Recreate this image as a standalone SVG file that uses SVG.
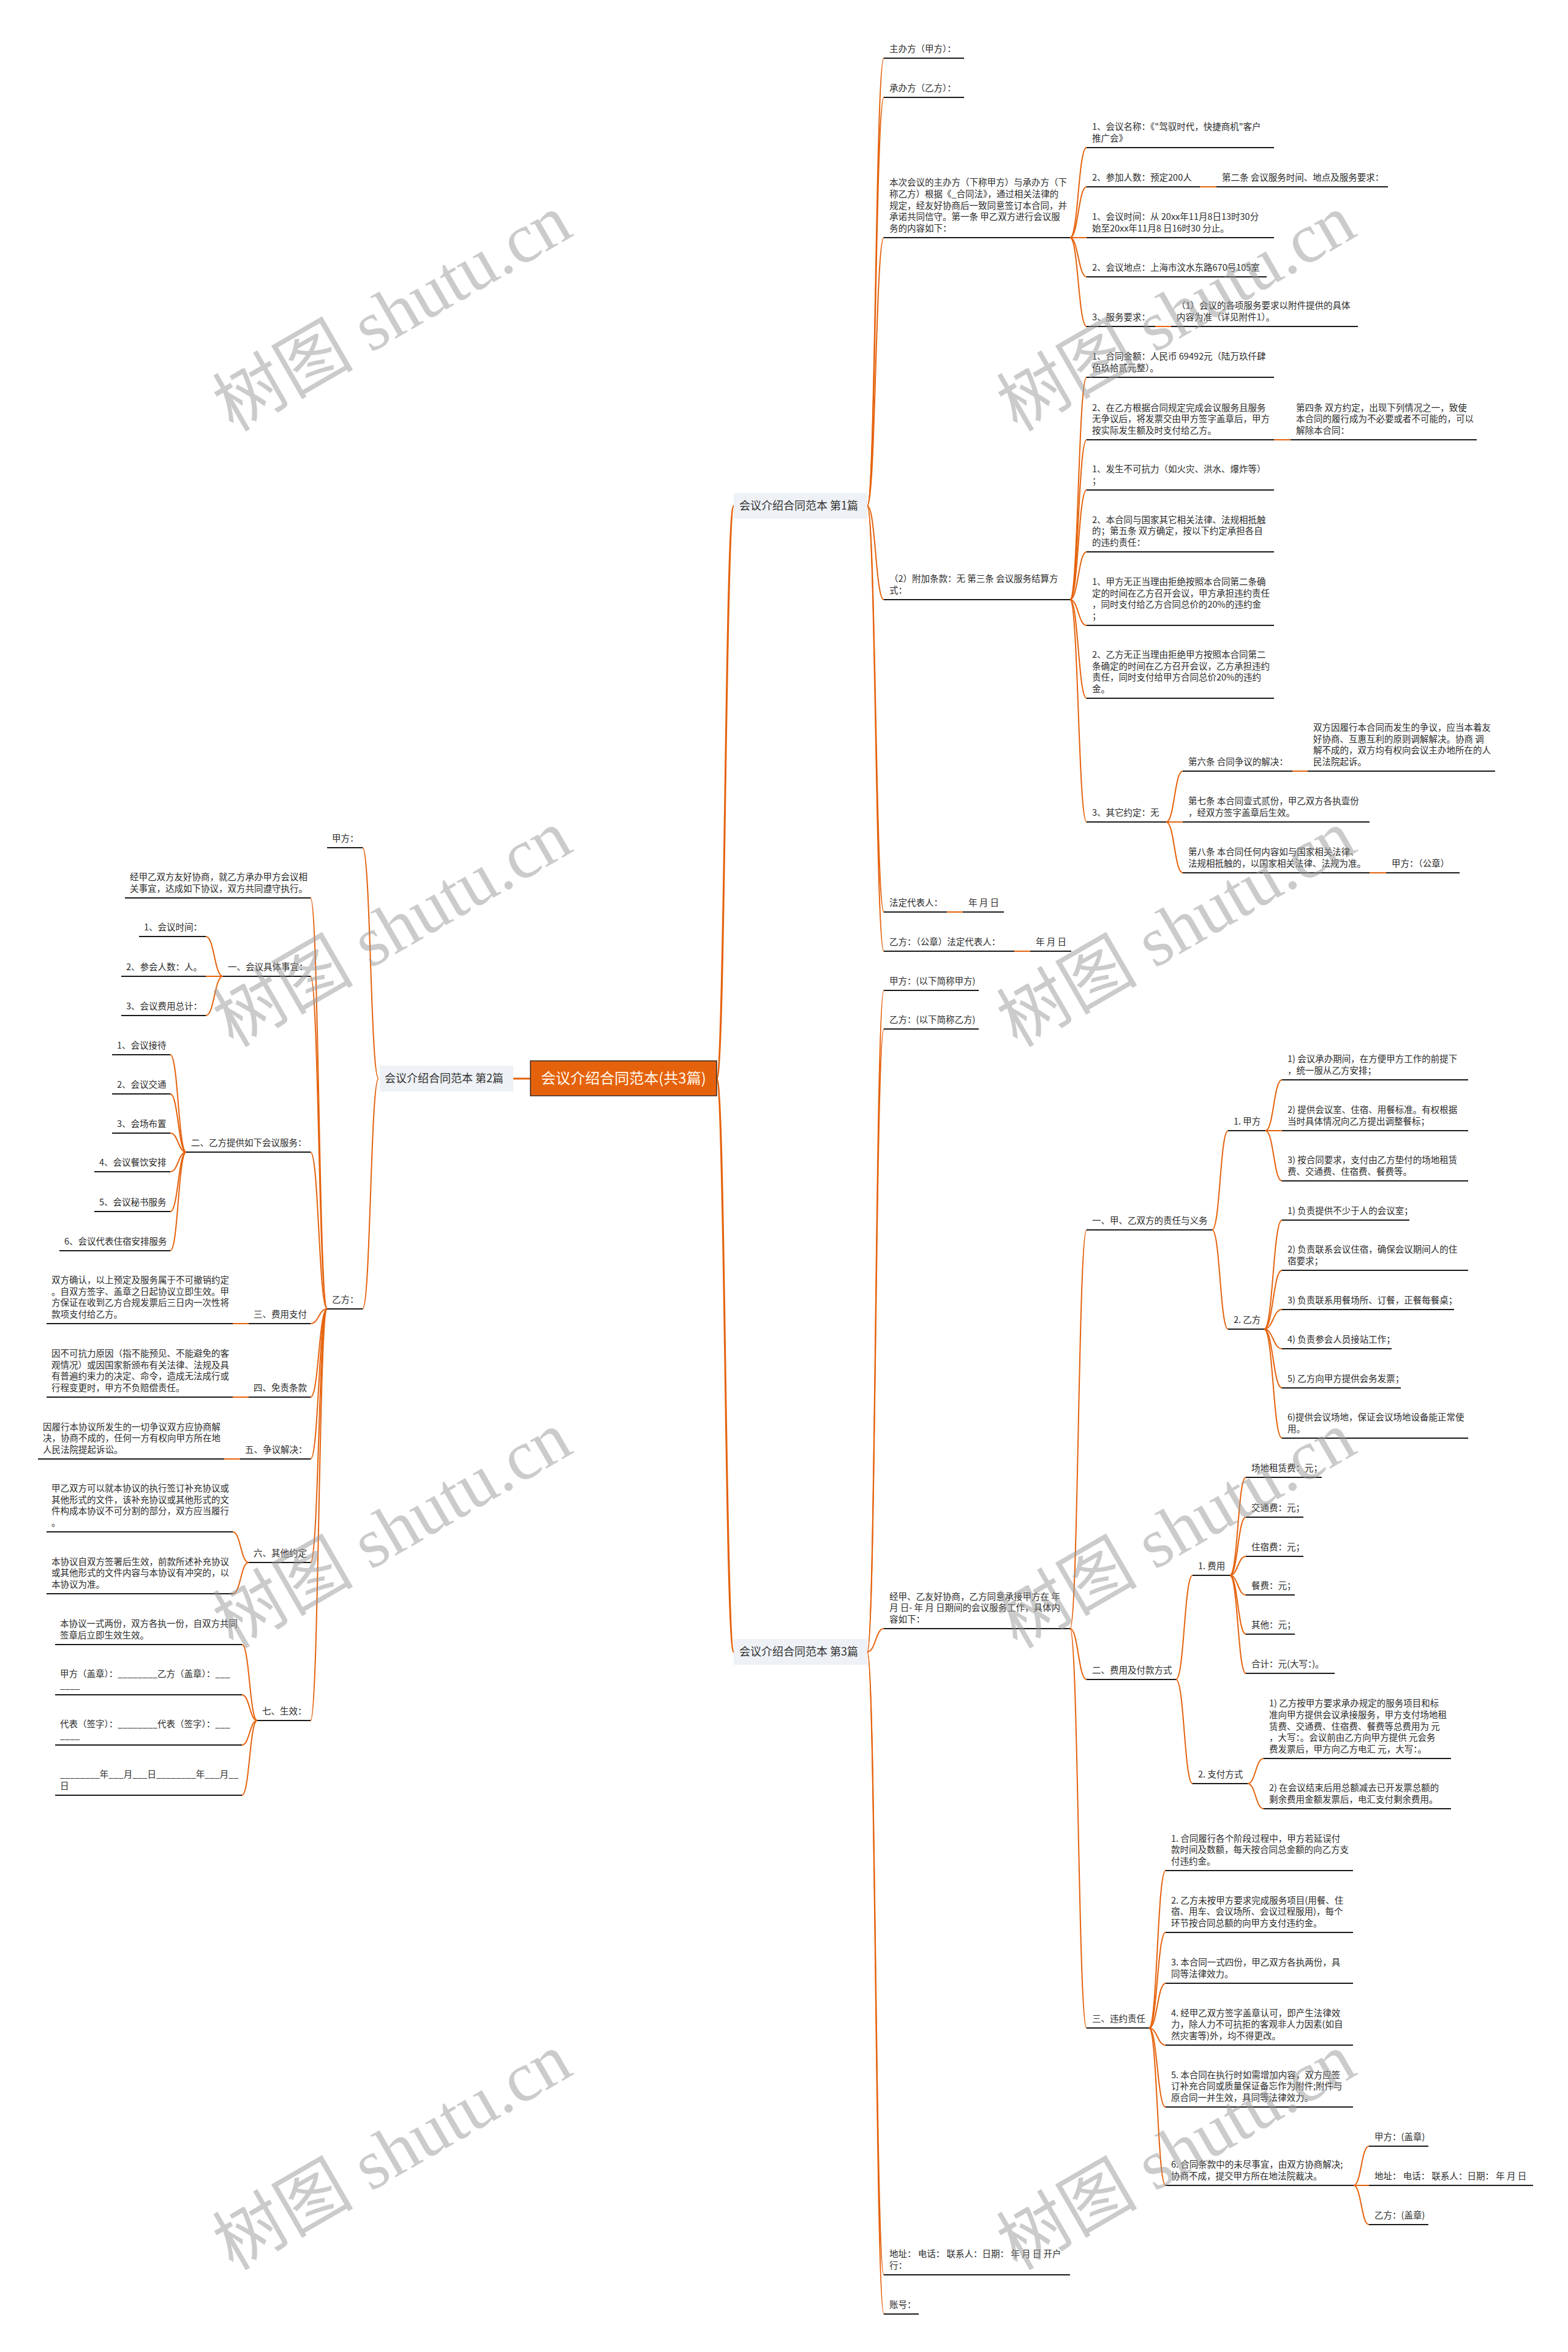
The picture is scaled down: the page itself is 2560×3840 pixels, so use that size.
<svg xmlns="http://www.w3.org/2000/svg" width="2560" height="3840" viewBox="0 0 2560 3840">
<style>
.t{font-family:"Noto Sans CJK SC","Noto Sans",sans-serif;font-size:14.5px;fill:#2b2b2b}
.u{stroke:#1a1a1a;stroke-width:2.2;fill:none}
.c{stroke:#E5620C;stroke-width:2;fill:none}
.cr{stroke:#E5620C;stroke-width:3;fill:none}
.bx{fill:#EEF1F5}
.bt{font-family:"Noto Sans CJK SC","Noto Sans",sans-serif;font-size:18px;fill:#333}
.rt{font-family:"Noto Sans CJK SC","Noto Sans",sans-serif;font-size:24px;fill:#FFF8EC}
.wm{font-family:"Liberation Serif","Noto Sans CJK SC",serif;font-size:115px;fill:#999;opacity:0.5}
</style>
<rect width="2560" height="3840" fill="#fff"/>
<g id="connectors">
<path class="cr" d="M866 1761 L838 1761"/>
<path class="cr" d="M1170 1761 C1184 1761 1184 826 1198 826"/>
<path class="cr" d="M1170 1761 C1184 1761 1184 2697 1198 2697"/>
<path class="c" d="M1416 826 C1429.5 826 1429.5 95 1443 95"/>
<path class="c" d="M1416 826 C1429.5 826 1429.5 159 1443 159"/>
<path class="c" d="M1416 826 C1429.5 826 1429.5 388 1443 388"/>
<path class="c" d="M1416 826 C1429.5 826 1429.5 979 1443 979"/>
<path class="c" d="M1416 826 C1429.5 826 1429.5 1489 1443 1489"/>
<path class="c" d="M1416 826 C1429.5 826 1429.5 1553 1443 1553"/>
<path class="c" d="M1747 388 C1760.5 388 1760.5 241 1774 241"/>
<path class="c" d="M1747 388 C1760.5 388 1760.5 305 1774 305"/>
<path class="c" d="M1747 388 L1774 388"/>
<path class="c" d="M1747 388 C1760.5 388 1760.5 452 1774 452"/>
<path class="c" d="M1747 388 C1760.5 388 1760.5 533 1774 533"/>
<path class="c" d="M1959 305 L1986 305"/>
<path class="c" d="M1886 533 L1912 533"/>
<path class="c" d="M1747 979 C1760.5 979 1760.5 616 1774 616"/>
<path class="c" d="M1747 979 C1760.5 979 1760.5 718 1774 718"/>
<path class="c" d="M1747 979 C1760.5 979 1760.5 800 1774 800"/>
<path class="c" d="M1747 979 C1760.5 979 1760.5 901 1774 901"/>
<path class="c" d="M1747 979 C1760.5 979 1760.5 1021 1774 1021"/>
<path class="c" d="M1747 979 C1760.5 979 1760.5 1140 1774 1140"/>
<path class="c" d="M1747 979 C1760.5 979 1760.5 1342 1774 1342"/>
<path class="c" d="M2080 718 L2107 718"/>
<path class="c" d="M1904 1342 C1917.5 1342 1917.5 1259 1931 1259"/>
<path class="c" d="M1904 1342 L1931 1342"/>
<path class="c" d="M1904 1342 C1917.5 1342 1917.5 1425 1931 1425"/>
<path class="c" d="M2110 1259 L2135 1259"/>
<path class="c" d="M2236 1425 L2263 1425"/>
<path class="c" d="M1546 1489 L1572 1489"/>
<path class="c" d="M1656 1553 L1682 1553"/>
<path class="c" d="M1416 2697 C1429.5 2697 1429.5 1617 1443 1617"/>
<path class="c" d="M1416 2697 C1429.5 2697 1429.5 1680 1443 1680"/>
<path class="c" d="M1416 2697 C1429.5 2697 1429.5 2659 1443 2659"/>
<path class="c" d="M1416 2697 C1429.5 2697 1429.5 3714 1443 3714"/>
<path class="c" d="M1416 2697 C1429.5 2697 1429.5 3778 1443 3778"/>
<path class="c" d="M1747 2659 C1760.5 2659 1760.5 2008 1774 2008"/>
<path class="c" d="M1747 2659 C1760.5 2659 1760.5 2742 1774 2742"/>
<path class="c" d="M1747 2659 C1760.5 2659 1760.5 3311 1774 3311"/>
<path class="c" d="M1979 2008 C1992 2008 1992 1846 2005 1846"/>
<path class="c" d="M1979 2008 C1992 2008 1992 2170 2005 2170"/>
<path class="c" d="M2066 1846 C2079.5 1846 2079.5 1763 2093 1763"/>
<path class="c" d="M2066 1846 L2093 1846"/>
<path class="c" d="M2066 1846 C2079.5 1846 2079.5 1928 2093 1928"/>
<path class="c" d="M2064 2170 C2078.5 2170 2078.5 1992 2093 1992"/>
<path class="c" d="M2064 2170 C2078.5 2170 2078.5 2074 2093 2074"/>
<path class="c" d="M2064 2170 C2078.5 2170 2078.5 2138 2093 2138"/>
<path class="c" d="M2064 2170 C2078.5 2170 2078.5 2202 2093 2202"/>
<path class="c" d="M2064 2170 C2078.5 2170 2078.5 2266 2093 2266"/>
<path class="c" d="M2064 2170 C2078.5 2170 2078.5 2348 2093 2348"/>
<path class="c" d="M1920 2742 C1933.5 2742 1933.5 2572 1947 2572"/>
<path class="c" d="M1920 2742 C1933.5 2742 1933.5 2912 1947 2912"/>
<path class="c" d="M2008 2572 C2021 2572 2021 2412 2034 2412"/>
<path class="c" d="M2008 2572 C2021 2572 2021 2477 2034 2477"/>
<path class="c" d="M2008 2572 C2021 2572 2021 2541 2034 2541"/>
<path class="c" d="M2008 2572 C2021 2572 2021 2604 2034 2604"/>
<path class="c" d="M2008 2572 C2021 2572 2021 2668 2034 2668"/>
<path class="c" d="M2008 2572 C2021 2572 2021 2732 2034 2732"/>
<path class="c" d="M2037 2912 C2050 2912 2050 2871 2063 2871"/>
<path class="c" d="M2037 2912 C2050 2912 2050 2953 2063 2953"/>
<path class="c" d="M1876 3311 C1889.5 3311 1889.5 3054 1903 3054"/>
<path class="c" d="M1876 3311 C1889.5 3311 1889.5 3155 1903 3155"/>
<path class="c" d="M1876 3311 C1889.5 3311 1889.5 3238 1903 3238"/>
<path class="c" d="M1876 3311 C1889.5 3311 1889.5 3339 1903 3339"/>
<path class="c" d="M1876 3311 C1889.5 3311 1889.5 3440 1903 3440"/>
<path class="c" d="M1876 3311 C1889.5 3311 1889.5 3568 1903 3568"/>
<path class="c" d="M2210 3568 C2222.5 3568 2222.5 3504 2235 3504"/>
<path class="c" d="M2210 3568 L2235 3568"/>
<path class="c" d="M2210 3568 C2222.5 3568 2222.5 3632 2235 3632"/>
<path class="c" d="M618 1761 C605 1761 605 1384 592 1384"/>
<path class="c" d="M618 1761 C605 1761 605 2137 592 2137"/>
<path class="c" d="M534 2137 C520.5 2137 520.5 1466 507 1466"/>
<path class="c" d="M534 2137 C520.5 2137 520.5 1594 507 1594"/>
<path class="c" d="M534 2137 C520.5 2137 520.5 1881 507 1881"/>
<path class="c" d="M534 2137 C520.5 2137 520.5 2161 507 2161"/>
<path class="c" d="M534 2137 C520.5 2137 520.5 2281 507 2281"/>
<path class="c" d="M534 2137 C520.5 2137 520.5 2382 507 2382"/>
<path class="c" d="M534 2137 C520.5 2137 520.5 2551 507 2551"/>
<path class="c" d="M534 2137 C520.5 2137 520.5 2809 507 2809"/>
<path class="c" d="M364 1594 C350 1594 350 1529 336 1529"/>
<path class="c" d="M364 1594 L336 1594"/>
<path class="c" d="M364 1594 C350 1594 350 1658 336 1658"/>
<path class="c" d="M304 1881 C291 1881 291 1722 278 1722"/>
<path class="c" d="M304 1881 C291 1881 291 1786 278 1786"/>
<path class="c" d="M304 1881 C291 1881 291 1850 278 1850"/>
<path class="c" d="M304 1881 C291 1881 291 1913 278 1913"/>
<path class="c" d="M304 1881 C291 1881 291 1978 278 1978"/>
<path class="c" d="M304 1881 C291 1881 291 2042 278 2042"/>
<path class="c" d="M406 2161 L380 2161"/>
<path class="c" d="M406 2281 L380 2281"/>
<path class="c" d="M392 2382 L366 2382"/>
<path class="c" d="M406 2551 C393 2551 393 2501 380 2501"/>
<path class="c" d="M406 2551 C393 2551 393 2602 380 2602"/>
<path class="c" d="M420 2809 C407.5 2809 407.5 2685 395 2685"/>
<path class="c" d="M420 2809 C407.5 2809 407.5 2767 395 2767"/>
<path class="c" d="M420 2809 C407.5 2809 407.5 2849 395 2849"/>
<path class="c" d="M420 2809 C407.5 2809 407.5 2931 395 2931"/>
</g>
<g id="root"><rect x="866" y="1732" width="304" height="57" fill="#E5620C" stroke="#3a2a20" stroke-width="1.5"/><text class="rt" x="1018" y="1769" text-anchor="middle">会议介绍合同范本(共3篇)</text></g>
<g id="b1"><rect class="bx" x="1198" y="805" width="218" height="42"/><text class="bt" x="1207" y="832">会议介绍合同范本 第1篇</text></g>
<g id="b2"><rect class="bx" x="620" y="1740" width="218" height="42"/><text class="bt" x="628" y="1767">会议介绍合同范本 第2篇</text></g>
<g id="b3"><rect class="bx" x="1198" y="2676" width="218" height="42"/><text class="bt" x="1207" y="2703">会议介绍合同范本 第3篇</text></g>
<g id="n1"><path class="u" d="M1443 95H1574"/><text class="t" x="1452" y="85">主办方（甲方）：</text></g>
<g id="n2"><path class="u" d="M1443 159H1574"/><text class="t" x="1452" y="149">承办方（乙方）：</text></g>
<g id="n3"><path class="u" d="M1443 388H1747"/><text class="t"><tspan x="1452" y="303.2">本次会议的主办方（下称甲方）与承办方（下</tspan><tspan x="1452" y="321.9">称乙方）根据《_合同法》，通过相关法律的</tspan><tspan x="1452" y="340.6">规定，经友好协商后一致同意签订本合同，并</tspan><tspan x="1452" y="359.3">承诺共同信守。第一条 甲乙双方进行会议服</tspan><tspan x="1452" y="378">务的内容如下：</tspan></text></g>
<g id="c1"><path class="u" d="M1774 241H2080"/><text class="t"><tspan x="1783" y="212.3">1、会议名称：《"驾驭时代，快捷商机"客户</tspan><tspan x="1783" y="231">推广会》</tspan></text></g>
<g id="c2"><path class="u" d="M1774 305H1959"/><text class="t" x="1783" y="295">2、参加人数：预定200人</text></g>
<g id="c2a"><path class="u" d="M1986 305H2266"/><text class="t" x="1995" y="295">第二条 会议服务时间、地点及服务要求：</text></g>
<g id="c3"><path class="u" d="M1774 388H2080"/><text class="t"><tspan x="1783" y="359.3">1、会议时间：从 20xx年11月8日13时30分</tspan><tspan x="1783" y="378">始至20xx年11月8 日16时30 分止。</tspan></text></g>
<g id="c4"><path class="u" d="M1774 452H2068"/><text class="t" x="1783" y="442">2、会议地点：上海市汶水东路670号105室</text></g>
<g id="c5"><path class="u" d="M1774 533H1886"/><text class="t" x="1783" y="523">3、服务要求：</text></g>
<g id="c5a"><path class="u" d="M1912 533H2217"/><text class="t"><tspan x="1921" y="504.3">（1）会议的各项服务要求以附件提供的具体</tspan><tspan x="1921" y="523">内容为准（详见附件1）。</tspan></text></g>
<g id="n4"><path class="u" d="M1443 979H1747"/><text class="t"><tspan x="1452" y="950.3">（2）附加条款：无 第三条 会议服务结算方</tspan><tspan x="1452" y="969">式：</tspan></text></g>
<g id="d1"><path class="u" d="M1774 616H2080"/><text class="t"><tspan x="1783" y="587.3">1、合同金额：人民币 69492元（陆万玖仟肆</tspan><tspan x="1783" y="606">佰玖拾贰元整）。</tspan></text></g>
<g id="d2"><path class="u" d="M1774 718H2080"/><text class="t"><tspan x="1783" y="670.6">2、在乙方根据合同规定完成会议服务且服务</tspan><tspan x="1783" y="689.3">无争议后，将发票交由甲方签字盖章后，甲方</tspan><tspan x="1783" y="708">按实际发生额及时支付给乙方。</tspan></text></g>
<g id="d2a"><path class="u" d="M2107 718H2411"/><text class="t"><tspan x="2116" y="670.6">第四条 双方约定，出现下列情况之一，致使</tspan><tspan x="2116" y="689.3">本合同的履行成为不必要或者不可能的，可以</tspan><tspan x="2116" y="708">解除本合同：</tspan></text></g>
<g id="d3"><path class="u" d="M1774 800H2080"/><text class="t"><tspan x="1783" y="771.3">1、发生不可抗力（如火灾、洪水、爆炸等）</tspan><tspan x="1783" y="790">；</tspan></text></g>
<g id="d4"><path class="u" d="M1774 901H2080"/><text class="t"><tspan x="1783" y="853.6">2、本合同与国家其它相关法律、法规相抵触</tspan><tspan x="1783" y="872.3">的；第五条 双方确定，按以下约定承担各自</tspan><tspan x="1783" y="891">的违约责任：</tspan></text></g>
<g id="d5"><path class="u" d="M1774 1021H2080"/><text class="t"><tspan x="1783" y="954.9">1、甲方无正当理由拒绝按照本合同第二条确</tspan><tspan x="1783" y="973.6">定的时间在乙方召开会议，甲方承担违约责任</tspan><tspan x="1783" y="992.3">，同时支付给乙方合同总价的20%的违约金</tspan><tspan x="1783" y="1011">；</tspan></text></g>
<g id="d6"><path class="u" d="M1774 1140H2080"/><text class="t"><tspan x="1783" y="1073.9">2、乙方无正当理由拒绝甲方按照本合同第二</tspan><tspan x="1783" y="1092.6">条确定的时间在乙方召开会议，乙方承担违约</tspan><tspan x="1783" y="1111.3">责任，同时支付给甲方合同总价20%的违约</tspan><tspan x="1783" y="1130">金。</tspan></text></g>
<g id="d7"><path class="u" d="M1774 1342H1904"/><text class="t" x="1783" y="1332">3、其它约定：无</text></g>
<g id="e1"><path class="u" d="M1931 1259H2110"/><text class="t" x="1940" y="1249">第六条 合同争议的解决：</text></g>
<g id="e1a"><path class="u" d="M2135 1259H2441"/><text class="t"><tspan x="2144" y="1192.9">双方因履行本合同而发生的争议，应当本着友</tspan><tspan x="2144" y="1211.6">好协商、互惠互利的原则调解解决。协商 调</tspan><tspan x="2144" y="1230.3">解不成的，双方均有权向会议主办地所在的人</tspan><tspan x="2144" y="1249">民法院起诉。</tspan></text></g>
<g id="e2"><path class="u" d="M1931 1342H2236"/><text class="t"><tspan x="1940" y="1313.3">第七条 本合同壹式贰份，甲乙双方各执壹份</tspan><tspan x="1940" y="1332">，经双方签字盖章后生效。</tspan></text></g>
<g id="e3"><path class="u" d="M1931 1425H2236"/><text class="t"><tspan x="1940" y="1396.3">第八条 本合同任何内容如与国家相关法律、</tspan><tspan x="1940" y="1415">法规相抵触的，以国家相关法律、法规为准。</tspan></text></g>
<g id="e3a"><path class="u" d="M2263 1425H2383"/><text class="t" x="2272" y="1415">甲方：（公章）</text></g>
<g id="n5"><path class="u" d="M1443 1489H1546"/><text class="t" x="1452" y="1479">法定代表人：</text></g>
<g id="n5a"><path class="u" d="M1572 1489H1639"/><text class="t" x="1581" y="1479">年 月 日</text></g>
<g id="n6"><path class="u" d="M1443 1553H1656"/><text class="t" x="1452" y="1543">乙方：（公章）法定代表人：</text></g>
<g id="n6a"><path class="u" d="M1682 1553H1749"/><text class="t" x="1691" y="1543">年 月 日</text></g>
<g id="f1"><path class="u" d="M1443 1617H1598"/><text class="t" x="1452" y="1607">甲方：(以下简称甲方)</text></g>
<g id="f2"><path class="u" d="M1443 1680H1598"/><text class="t" x="1452" y="1670">乙方：(以下简称乙方)</text></g>
<g id="f3"><path class="u" d="M1443 2659H1747"/><text class="t"><tspan x="1452" y="2611.6">经甲、乙友好协商，乙方同意承接甲方在 年</tspan><tspan x="1452" y="2630.3">月 日- 年 月 日期间的会议服务工作，具体内</tspan><tspan x="1452" y="2649">容如下：</tspan></text></g>
<g id="g1"><path class="u" d="M1774 2008H1979"/><text class="t" x="1783" y="1998">一、甲、乙双方的责任与义务</text></g>
<g id="h1"><path class="u" d="M2005 1846H2066"/><text class="t" x="2014" y="1836">1. 甲方</text></g>
<g id="i1"><path class="u" d="M2093 1763H2397"/><text class="t"><tspan x="2102" y="1734.3">1) 会议承办期间，在方便甲方工作的前提下</tspan><tspan x="2102" y="1753">，统一服从乙方安排；</tspan></text></g>
<g id="i2"><path class="u" d="M2093 1846H2397"/><text class="t"><tspan x="2102" y="1817.3">2) 提供会议室、住宿、用餐标准。有权根据</tspan><tspan x="2102" y="1836">当时具体情况向乙方提出调整餐标；</tspan></text></g>
<g id="i3"><path class="u" d="M2093 1928H2397"/><text class="t"><tspan x="2102" y="1899.3">3) 按合同要求，支付由乙方垫付的场地租赁</tspan><tspan x="2102" y="1918">费、交通费、住宿费、餐费等。</tspan></text></g>
<g id="h2"><path class="u" d="M2005 2170H2064"/><text class="t" x="2014" y="2160">2. 乙方</text></g>
<g id="j1"><path class="u" d="M2093 1992H2301"/><text class="t" x="2102" y="1982">1) 负责提供不少于人的会议室；</text></g>
<g id="j2"><path class="u" d="M2093 2074H2397"/><text class="t"><tspan x="2102" y="2045.3">2) 负责联系会议住宿，确保会议期间人的住</tspan><tspan x="2102" y="2064">宿要求；</tspan></text></g>
<g id="j3"><path class="u" d="M2093 2138H2374"/><text class="t" x="2102" y="2128">3) 负责联系用餐场所、订餐，正餐每餐桌；</text></g>
<g id="j4"><path class="u" d="M2093 2202H2272"/><text class="t" x="2102" y="2192">4) 负责参会人员接站工作；</text></g>
<g id="j5"><path class="u" d="M2093 2266H2287"/><text class="t" x="2102" y="2256">5) 乙方向甲方提供会务发票；</text></g>
<g id="j6"><path class="u" d="M2093 2348H2397"/><text class="t"><tspan x="2102" y="2319.3">6)提供会议场地，保证会议场地设备能正常使</tspan><tspan x="2102" y="2338">用。</tspan></text></g>
<g id="g2"><path class="u" d="M1774 2742H1920"/><text class="t" x="1783" y="2732">二、费用及付款方式</text></g>
<g id="k1"><path class="u" d="M1947 2572H2008"/><text class="t" x="1956" y="2562">1. 费用</text></g>
<g id="l1"><path class="u" d="M2034 2412H2158"/><text class="t" x="2043" y="2402">场地租赁费：元；</text></g>
<g id="l2"><path class="u" d="M2034 2477H2128"/><text class="t" x="2043" y="2467">交通费：元；</text></g>
<g id="l3"><path class="u" d="M2034 2541H2128"/><text class="t" x="2043" y="2531">住宿费：元；</text></g>
<g id="l4"><path class="u" d="M2034 2604H2114"/><text class="t" x="2043" y="2594">餐费：元；</text></g>
<g id="l5"><path class="u" d="M2034 2668H2114"/><text class="t" x="2043" y="2658">其他：元；</text></g>
<g id="l6"><path class="u" d="M2034 2732H2179"/><text class="t" x="2043" y="2722">合计：元(大写：)。</text></g>
<g id="k2"><path class="u" d="M1947 2912H2037"/><text class="t" x="1956" y="2902">2. 支付方式</text></g>
<g id="m1"><path class="u" d="M2063 2871H2369"/><text class="t"><tspan x="2072" y="2786.2">1) 乙方按甲方要求承办规定的服务项目和标</tspan><tspan x="2072" y="2804.9">准向甲方提供会议承接服务，甲方支付场地租</tspan><tspan x="2072" y="2823.6">赁费、交通费、住宿费、餐费等总费用为 元</tspan><tspan x="2072" y="2842.3">，大写：。会议前由乙方向甲方提供 元会务</tspan><tspan x="2072" y="2861">费发票后，甲方向乙方电汇 元，大写：。</tspan></text></g>
<g id="m2"><path class="u" d="M2063 2953H2369"/><text class="t"><tspan x="2072" y="2924.3">2) 在会议结束后用总额减去已开发票总额的</tspan><tspan x="2072" y="2943">剩余费用金额发票后，电汇支付剩余费用。</tspan></text></g>
<g id="g3"><path class="u" d="M1774 3311H1876"/><text class="t" x="1783" y="3301">三、违约责任</text></g>
<g id="o1"><path class="u" d="M1903 3054H2209"/><text class="t"><tspan x="1912" y="3006.6">1. 合同履行各个阶段过程中，甲方若延误付</tspan><tspan x="1912" y="3025.3">款时间及数额，每天按合同总金额的向乙方支</tspan><tspan x="1912" y="3044">付违约金。</tspan></text></g>
<g id="o2"><path class="u" d="M1903 3155H2209"/><text class="t"><tspan x="1912" y="3107.6">2. 乙方未按甲方要求完成服务项目(用餐、住</tspan><tspan x="1912" y="3126.3">宿、用车、会议场所、会议过程服用)，每个</tspan><tspan x="1912" y="3145">环节按合同总额的向甲方支付违约金。</tspan></text></g>
<g id="o3"><path class="u" d="M1903 3238H2209"/><text class="t"><tspan x="1912" y="3209.3">3. 本合同一式四份，甲乙双方各执两份，具</tspan><tspan x="1912" y="3228">同等法律效力。</tspan></text></g>
<g id="o4"><path class="u" d="M1903 3339H2209"/><text class="t"><tspan x="1912" y="3291.6">4. 经甲乙双方签字盖章认可，即产生法律效</tspan><tspan x="1912" y="3310.3">力，除人力不可抗拒的客观非人力因素(如自</tspan><tspan x="1912" y="3329">然灾害等)外，均不得更改。</tspan></text></g>
<g id="o5"><path class="u" d="M1903 3440H2209"/><text class="t"><tspan x="1912" y="3392.6">5. 本合同在执行时如需增加内容，双方应签</tspan><tspan x="1912" y="3411.3">订补充合同或质量保证备忘作为附件;附件与</tspan><tspan x="1912" y="3430">原合同一并生效，具同等法律效力。</tspan></text></g>
<g id="o6"><path class="u" d="M1903 3568H2210"/><text class="t"><tspan x="1912" y="3539.3">6. 合同条款中的未尽事宜，由双方协商解决;</tspan><tspan x="1912" y="3558">协商不成，提交甲方所在地法院裁决。</tspan></text></g>
<g id="p1"><path class="u" d="M2235 3504H2332"/><text class="t" x="2244" y="3494">甲方：(盖章)</text></g>
<g id="p2"><path class="u" d="M2235 3568H2503"/><text class="t" x="2244" y="3558">地址： 电话： 联系人：日期： 年 月 日</text></g>
<g id="p3"><path class="u" d="M2235 3632H2332"/><text class="t" x="2244" y="3622">乙方：(盖章)</text></g>
<g id="f4"><path class="u" d="M1443 3714H1747"/><text class="t"><tspan x="1452" y="3685.3">地址： 电话： 联系人：日期： 年 月 日 开户</tspan><tspan x="1452" y="3704">行：</tspan></text></g>
<g id="f5"><path class="u" d="M1443 3778H1500"/><text class="t" x="1452" y="3768">账号：</text></g>
<g id="q1"><path class="u" d="M534 1384H592"/><text class="t" x="542" y="1374">甲方：</text></g>
<g id="q2"><path class="u" d="M534 2137H592"/><text class="t" x="542" y="2127">乙方：</text></g>
<g id="r1"><path class="u" d="M204 1466H507"/><text class="t"><tspan x="212" y="1437.3">经甲乙双方友好协商，就乙方承办甲方会议相</tspan><tspan x="212" y="1456">关事宜，达成如下协议，双方共同遵守执行。</tspan></text></g>
<g id="r2"><path class="u" d="M364 1594H507"/><text class="t" x="372" y="1584">一、会议具体事宜：</text></g>
<g id="s1"><path class="u" d="M227 1529H336"/><text class="t" x="235" y="1519">1、会议时间：</text></g>
<g id="s2"><path class="u" d="M198 1594H336"/><text class="t" x="206" y="1584">2、参会人数：人。</text></g>
<g id="s3"><path class="u" d="M198 1658H336"/><text class="t" x="206" y="1648">3、会议费用总计：</text></g>
<g id="r3"><path class="u" d="M304 1881H507"/><text class="t" x="312" y="1871">二、乙方提供如下会议服务：</text></g>
<g id="t1"><path class="u" d="M183 1722H278"/><text class="t" x="191" y="1712">1、会议接待</text></g>
<g id="t2"><path class="u" d="M183 1786H278"/><text class="t" x="191" y="1776">2、会议交通</text></g>
<g id="t3"><path class="u" d="M183 1850H278"/><text class="t" x="191" y="1840">3、会场布置</text></g>
<g id="t4"><path class="u" d="M154 1913H278"/><text class="t" x="162" y="1903">4、会议餐饮安排</text></g>
<g id="t5"><path class="u" d="M154 1978H278"/><text class="t" x="162" y="1968">5、会议秘书服务</text></g>
<g id="t6"><path class="u" d="M97 2042H278"/><text class="t" x="105" y="2032">6、会议代表住宿安排服务</text></g>
<g id="r4"><path class="u" d="M406 2161H507"/><text class="t" x="414" y="2151">三、费用支付</text></g>
<g id="r4a"><path class="u" d="M76 2161H380"/><text class="t"><tspan x="84" y="2094.9">双方确认，以上预定及服务属于不可撤销约定</tspan><tspan x="84" y="2113.6">。自双方签字、盖章之日起协议立即生效。甲</tspan><tspan x="84" y="2132.3">方保证在收到乙方合规发票后三日内一次性将</tspan><tspan x="84" y="2151">款项支付给乙方。</tspan></text></g>
<g id="r5"><path class="u" d="M406 2281H507"/><text class="t" x="414" y="2271">四、免责条款</text></g>
<g id="r5a"><path class="u" d="M76 2281H380"/><text class="t"><tspan x="84" y="2214.9">因不可抗力原因（指不能预见、不能避免的客</tspan><tspan x="84" y="2233.6">观情况）或因国家新颁布有关法律、法规及具</tspan><tspan x="84" y="2252.3">有普遍约束力的决定、命令，造成无法成行或</tspan><tspan x="84" y="2271">行程变更时，甲方不负赔偿责任。</tspan></text></g>
<g id="r6"><path class="u" d="M392 2382H507"/><text class="t" x="400" y="2372">五、争议解决：</text></g>
<g id="r6a"><path class="u" d="M62 2382H366"/><text class="t"><tspan x="70" y="2334.6">因履行本协议所发生的一切争议双方应协商解</tspan><tspan x="70" y="2353.3">决，协商不成的，任何一方有权向甲方所在地</tspan><tspan x="70" y="2372">人民法院提起诉讼。</tspan></text></g>
<g id="r7"><path class="u" d="M406 2551H507"/><text class="t" x="414" y="2541">六、其他约定</text></g>
<g id="u1"><path class="u" d="M76 2501H380"/><text class="t"><tspan x="84" y="2434.9">甲乙双方可以就本协议的执行签订补充协议或</tspan><tspan x="84" y="2453.6">其他形式的文件，该补充协议或其他形式的文</tspan><tspan x="84" y="2472.3">件构成本协议不可分割的部分，双方应当履行</tspan><tspan x="84" y="2491">。</tspan></text></g>
<g id="u2"><path class="u" d="M76 2602H380"/><text class="t"><tspan x="84" y="2554.6">本协议自双方签署后生效，前款所述补充协议</tspan><tspan x="84" y="2573.3">或其他形式的文件内容与本协议有冲突的，以</tspan><tspan x="84" y="2592">本协议为准。</tspan></text></g>
<g id="r8"><path class="u" d="M420 2809H507"/><text class="t" x="428" y="2799">七、生效：</text></g>
<g id="v1"><path class="u" d="M90 2685H395"/><text class="t"><tspan x="98" y="2656.3">本协议一式两份，双方各执一份，自双方共同</tspan><tspan x="98" y="2675">签章后立即生效生效。</tspan></text></g>
<g id="v2"><path class="u" d="M90 2767H395"/><text class="t"><tspan x="98" y="2738.3">甲方（盖章）：________乙方（盖章）：___</tspan><tspan x="98" y="2757">____</tspan></text></g>
<g id="v3"><path class="u" d="M90 2849H395"/><text class="t"><tspan x="98" y="2820.3">代表（签字）：________代表（签字）：___</tspan><tspan x="98" y="2839">____</tspan></text></g>
<g id="v4"><path class="u" d="M90 2931H395"/><text class="t"><tspan x="98" y="2902.3">________年___月___日________年___月__</tspan><tspan x="98" y="2921">日</tspan></text></g>
<g id="watermarks">
<text class="wm" transform="translate(640 510) rotate(-30)" text-anchor="middle" y="40">树图 shutu.cn</text>
<text class="wm" transform="translate(1920 510) rotate(-30)" text-anchor="middle" y="40">树图 shutu.cn</text>
<text class="wm" transform="translate(640 1515) rotate(-30)" text-anchor="middle" y="40">树图 shutu.cn</text>
<text class="wm" transform="translate(1920 1515) rotate(-30)" text-anchor="middle" y="40">树图 shutu.cn</text>
<text class="wm" transform="translate(640 2497) rotate(-30)" text-anchor="middle" y="40">树图 shutu.cn</text>
<text class="wm" transform="translate(1920 2497) rotate(-30)" text-anchor="middle" y="40">树图 shutu.cn</text>
<text class="wm" transform="translate(640 3512) rotate(-30)" text-anchor="middle" y="40">树图 shutu.cn</text>
<text class="wm" transform="translate(1920 3512) rotate(-30)" text-anchor="middle" y="40">树图 shutu.cn</text>
</g>
</svg>
